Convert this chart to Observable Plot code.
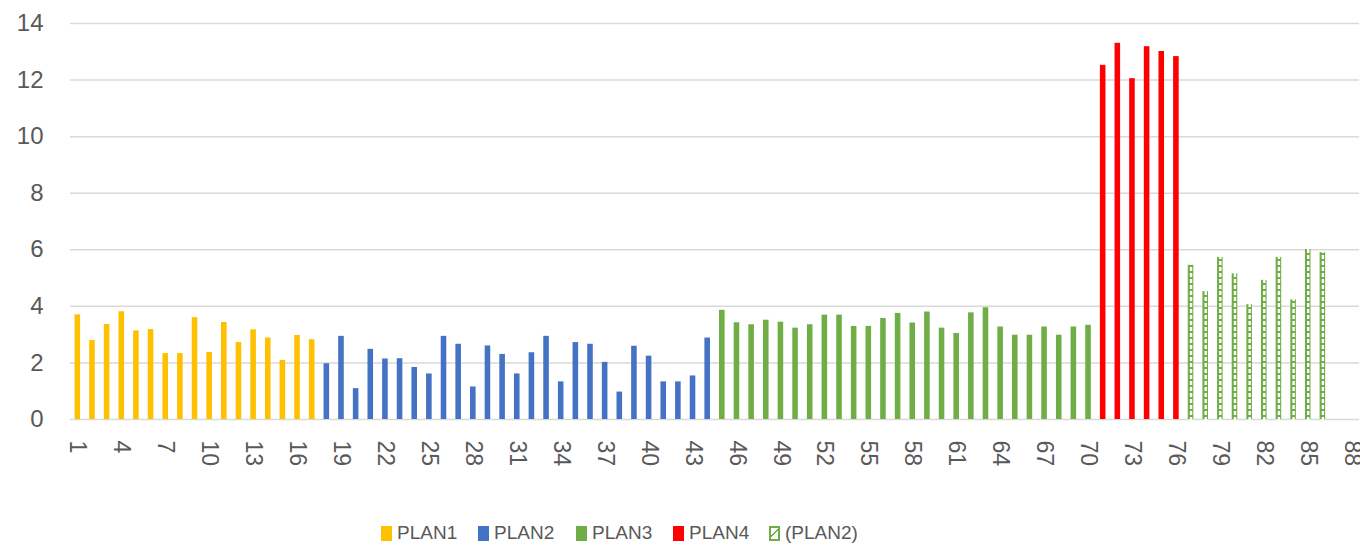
<!DOCTYPE html>
<html><head><meta charset="utf-8">
<script src="https://cdn.jsdelivr.net/npm/d3@7"></script>
<script src="https://cdn.jsdelivr.net/npm/@observablehq/plot@0.6"></script>
<style>
body{margin:0;background:#fff;font-family:"Liberation Sans",Arial,sans-serif;}
#legend{position:relative;height:43px;}
.item{position:absolute;top:17px;display:flex;align-items:center;font-size:19px;color:#595959;line-height:22px;}
.sw{width:11px;height:15px;margin-right:5px;box-sizing:border-box;}
</style></head><body><div id="chart"></div><div id="legend"></div>
<script>
const categories = d3.range(1, 89);
const xTicks = d3.range(1, 89, 3);
const yTicks = [0, 2, 4, 6, 8, 10, 12, 14];
const seriesNames = ["PLAN1", "PLAN2", "PLAN3", "PLAN4", "(PLAN2)"];
const seriesColors = ["#FFC000", "#4472C4", "#70AD47", "#FF0000", "#70AD47"];
const seriesStart = [1, 18, 45, 71, 77];
const plan1 = [3.70,2.79,3.36,3.81,3.13,3.18,2.33,2.33,3.60,2.37,3.43,2.72,3.17,2.88,2.09,2.97,2.82];
const plan2 = [1.97,2.94,1.09,2.48,2.14,2.15,1.84,1.61,2.94,2.66,1.15,2.60,2.30,1.61,2.36,2.94,1.33,2.72,2.66,2.02,0.97,2.59,2.24,1.33,1.33,1.54,2.88];
const plan3 = [3.86,3.42,3.35,3.51,3.44,3.23,3.35,3.69,3.69,3.29,3.29,3.57,3.75,3.41,3.80,3.23,3.04,3.77,3.95,3.27,2.98,2.98,3.27,2.98,3.27,3.33];
const plan4 = [12.52,13.30,12.05,13.18,13.01,12.83];
const plan2b = [5.45,4.52,5.73,5.15,4.06,4.92,5.73,4.23,6.01,5.90];
const seriesValues = [plan1, plan2, plan3, plan4, plan2b];

const rows = [];
seriesValues.forEach((vals, s) => vals.forEach((v, i) => rows.push({cat: seriesStart[s] + i, value: v, series: seriesNames[s], color: seriesColors[s], hatch: s === 4})));
const hatchRows = rows.filter(d => d.hatch);

const chart = Plot.plot({
  width: 1360, height: 505,
  marginTop: 23, marginBottom: 86, marginLeft: 70, marginRight: 1,
  style: {fontFamily: "Liberation Sans, Arial, sans-serif", fontSize: "24px", color: "#595959", background: "#fff"},
  x: {type: "band", domain: categories, paddingInner: 0.62, paddingOuter: 0.31, axis: null},
  y: {domain: [0, 14], axis: null},
  marks: [
    Plot.ruleY(yTicks, {stroke: "#d9d9d9", strokeWidth: 1.5}),
    Plot.axisY(yTicks, {tickSize: 0, tickPadding: 27, label: null, fontSize: 24}),
    Plot.axisX(xTicks, {tickSize: 0, tickPadding: 21, tickRotate: 90, label: null, fontSize: 23}),
    Plot.barY(rows, {x: "cat", y: "value", fill: "color"}),
    Plot.ruleX(hatchRows, {x: "cat", y1: 0, y2: "value", stroke: "white", strokeWidth: 2.4, strokeDasharray: "4,2", insetTop: 2, insetBottom: 1})
  ]
});
document.getElementById("chart").append(chart);

const lefts = [381, 478, 576, 673, 769];
const legend = document.getElementById("legend");
seriesNames.forEach((name, i) => {
  const it = document.createElement("div");
  it.className = "item";
  it.style.left = lefts[i] + "px";
  const sw = document.createElement("div");
  sw.className = "sw";
  if (i === 4) {
    sw.style.border = "2px solid " + seriesColors[i];
    sw.style.background = "linear-gradient(135deg, #fff 0 40%, " + seriesColors[i] + " 40% 55%, #fff 55% 100%)";
  } else {
    sw.style.background = seriesColors[i];
  }
  const tx = document.createElement("span");
  tx.textContent = name;
  it.append(sw, tx);
  legend.append(it);
});
</script></body></html>
